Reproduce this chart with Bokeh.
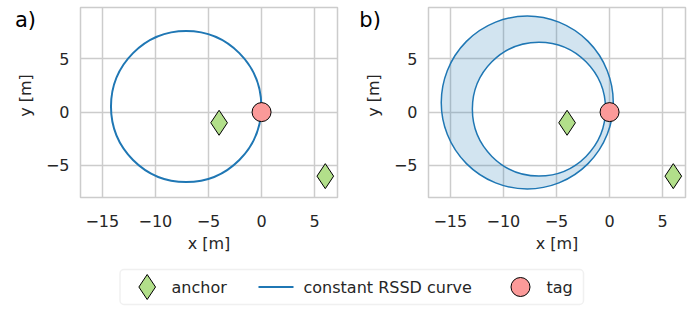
import numpy as np
from bokeh.plotting import figure
from bokeh.layouts import column, row
from bokeh.models import Range1d, FixedTicker, Label, BoxAnnotation
from bokeh.core.properties import value
from bokeh.embed import file_html
from bokeh.resources import INLINE

# ---------------- data ----------------
anchor_x = [-4, 6]
anchor_y = [-1, -6]
tag_x = [0]
tag_y = [0]

# panel a: one constant-RSSD circle (center, radius)
curve_a_cx = [-7.1]
curve_a_cy = [0.52]
curve_a_r = [7.08]

# panel b: outer and inner constant-RSSD circles
curve_b_cx = [-7.75, -6.65]
curve_b_cy = [0.9, 0.28]
curve_b_r = [8.1, 6.27]

x_ticks = [-15, -10, -5, 0, 5]
x_tick_labels = ["−15", "−10", "−5", "0", "5"]
y_ticks = [-5, 0, 5]
y_tick_labels = ["−5", "0", "5"]

legend_labels = ["anchor", "constant RSSD curve", "tag"]
panel_labels = ["a)", "b)"]

# ---------------- style ----------------
FONT = "DejaVu Sans"
TXT = "#262626"
GRID = "#cccccc"
BLUE = "#1f77b4"
GREEN = "#b2df8a"
PINK = "#fb9a99"
FS = "16px"

X0, X1 = -17.05, 7.15
Y0, Y1 = -8.0, 9.8
FRAME_W, FRAME_H = 257, 190
BORDER_TOP, BORDER_BOTTOM = 7, 58
PX_X = FRAME_W / (X1 - X0)   # pixels per x unit
PX_Y = FRAME_H / (Y1 - Y0)   # pixels per y unit


def make_panel(label, label_dx, border_left, border_right):
    p = figure(frame_width=FRAME_W, frame_height=FRAME_H,
               x_range=Range1d(X0, X1), y_range=Range1d(Y0, Y1),
               output_backend="svg", toolbar_location=None,
               min_border_left=border_left, min_border_right=border_right,
               min_border_top=BORDER_TOP, min_border_bottom=BORDER_BOTTOM)
    p.outline_line_color = GRID
    p.outline_line_width = 1.5
    p.grid.grid_line_color = GRID
    p.grid.grid_line_width = 1.5
    p.xaxis.ticker = FixedTicker(ticks=x_ticks)
    p.yaxis.ticker = FixedTicker(ticks=y_ticks)
    p.xgrid.ticker = FixedTicker(ticks=x_ticks)
    p.ygrid.ticker = FixedTicker(ticks=y_ticks)
    p.xaxis.major_label_overrides = dict(zip(x_ticks, x_tick_labels))
    p.yaxis.major_label_overrides = dict(zip(y_ticks, y_tick_labels))
    p.xaxis.axis_label = "x [m]"
    for ax in (p.xaxis, p.yaxis):
        ax.axis_line_color = None
        ax.major_tick_line_color = None
        ax.minor_tick_line_color = None
        ax.major_tick_in = 0
        ax.major_tick_out = 0
        ax.minor_tick_in = 0
        ax.minor_tick_out = 0
        ax.major_label_text_font = FONT
        ax.major_label_text_font_size = FS
        ax.major_label_text_color = TXT
        ax.axis_label_text_font = FONT
        ax.axis_label_text_font_size = FS
        ax.axis_label_text_font_style = "normal"
        ax.axis_label_text_color = TXT
    p.xaxis.major_label_standoff = 17
    p.xaxis.axis_label_standoff = 4
    p.yaxis.major_label_standoff = 11
    # y-axis title and panel tag live in the left side panel (not clipped),
    # positioned relative to the frame via data units
    p.add_layout(Label(x=X0 - 55 / PX_X, y=(Y0 + Y1) / 2 + BORDER_TOP / PX_Y,
                       text="y [m]", angle=90, angle_units="deg",
                       text_font=FONT, text_font_size=FS, text_color=TXT,
                       text_align="center", text_baseline="middle"), "left")
    p.add_layout(Label(x=X0 + label_dx / PX_X, y=Y1 - (19 - BORDER_TOP) / PX_Y,
                       text=label, text_font=FONT, text_font_size="21px",
                       text_color="black", text_align="left",
                       text_baseline="alphabetic"), "left")
    return p


def add_markers(p):
    p.scatter(anchor_x, anchor_y, marker="diamond", size=25,
              fill_color=GREEN, line_color="black", line_width=1)
    p.scatter(tag_x, tag_y, marker="circle", size=19,
              fill_color=PINK, line_color="black", line_width=1)


# panel a
pa = make_panel(panel_labels[0], -65.6, 80, 11)
pa.ellipse(x=curve_a_cx, y=curve_a_cy,
           width=[2 * r for r in curve_a_r], height=[2 * r for r in curve_a_r],
           fill_color=None, line_color=BLUE, line_width=2)
add_markers(pa)

# panel b
pb = make_panel(panel_labels[1], -69.2, 80, 11)
t = np.linspace(0, 2 * np.pi, 361)
rings_x = [list(cx + r * np.cos(t)) for cx, r in zip(curve_b_cx, curve_b_r)]
rings_y = [list(cy + r * np.sin(t)) for cy, r in zip(curve_b_cy, curve_b_r)]
pb.multi_polygons(xs=[[rings_x]], ys=[[rings_y]],
                  fill_color=BLUE, fill_alpha=0.2, line_color=None)
pb.ellipse(x=curve_b_cx, y=curve_b_cy,
           width=[2 * r for r in curve_b_r], height=[2 * r for r in curve_b_r],
           fill_color=None, line_color=BLUE, line_width=1.5)
add_markers(pb)

# legend strip (pixel-unit coordinates)
LW, LH = 696, 52
pl = figure(width=LW, height=LH, x_range=Range1d(0, LW), y_range=Range1d(0, LH),
            output_backend="svg", toolbar_location=None,
            min_border=0, min_border_left=0, min_border_right=0,
            min_border_top=0, min_border_bottom=0)
pl.axis.visible = False
pl.grid.visible = False
pl.outline_line_color = None
box_left, box_right, box_top, box_bottom = 119.5, 583, 38, 3
pl.add_layout(BoxAnnotation(left=box_left, right=box_right, top=box_top, bottom=box_bottom,
                            fill_color="white", fill_alpha=0, line_color=GRID,
                            line_width=1.5, border_radius=4, level="underlay"))
cy = (box_top + box_bottom) / 2
handle_w = 35
starts = [129.2, 258, 502.5]
text_x = [171, 303, 546]
pl.scatter([starts[0] + handle_w / 2], [cy], marker="diamond", size=25,
           fill_color=GREEN, line_color="black", line_width=1)
pl.segment(x0=[starts[1]], y0=[cy], x1=[starts[1] + handle_w], y1=[cy],
           line_color=BLUE, line_width=2)
pl.scatter([starts[2] + handle_w / 2], [cy], marker="circle", size=19,
           fill_color=PINK, line_color="black", line_width=1)
pl.text(x=text_x, y=[cy] * 3, text=legend_labels,
        text_font=value(FONT), text_font_size=FS, text_color=TXT,
        text_baseline="middle", text_align="left")

layout = column(row(pa, pb), pl)
open("out.html", "w").write(file_html(layout, INLINE))
